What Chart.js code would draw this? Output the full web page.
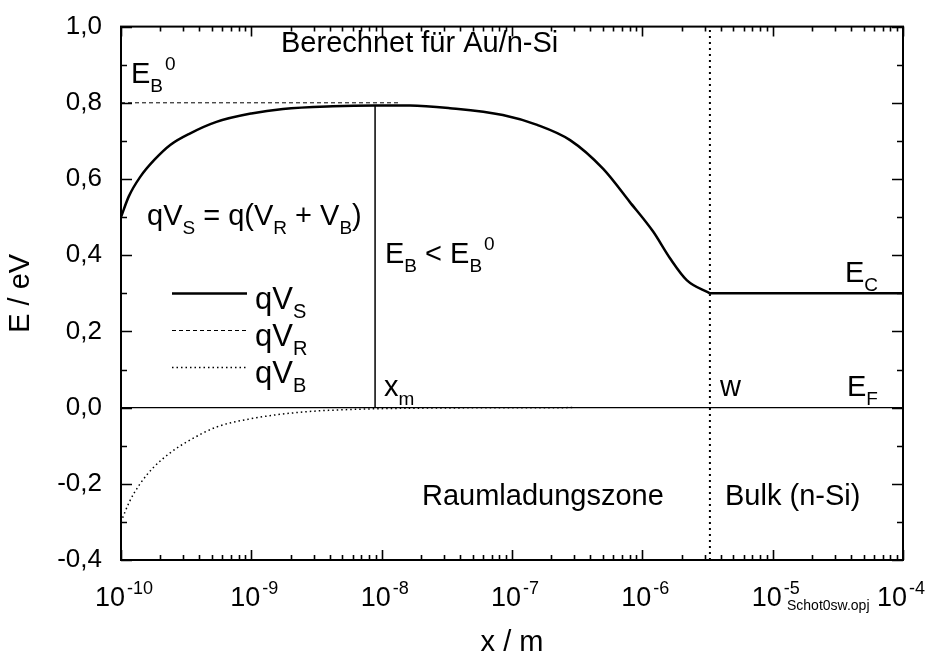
<!DOCTYPE html>
<html>
<head>
<meta charset="utf-8">
<script src="https://cdn.jsdelivr.net/npm/chart.js@4.4.0/dist/chart.umd.min.js"></script>
<style>
  html, body { margin: 0; padding: 0; background: #fff; }
  #wrap { width: 927px; height: 657px; }
</style>
</head>
<body>
<div id="wrap"><canvas id="chart" width="927" height="657"></canvas></div>
<script>
// --- Werte ---
// qV_S (gesamt), bis w
const xVs = [1e-10, 1.15e-10, 1.4e-10, 1.8e-10, 2.4e-10, 3.4e-10, 5.4e-10, 1e-9, 1.75e-9, 4.2e-9, 8.9e-9,
             1.65e-8, 3.34e-8, 8.5e-8, 1.56e-7, 2.79e-7, 4.99e-7, 8.0e-7, 1.21e-6, 1.63e-6, 2.2e-6, 3.3e-6];
const yVs = [0.50, 0.555, 0.605, 0.65, 0.69, 0.72, 0.75, 0.772, 0.784, 0.791, 0.793,
             0.793, 0.786, 0.768, 0.742, 0.702, 0.627, 0.540, 0.462, 0.392, 0.334, 0.30];
// Leitungsband im Bulk
const xEc = [3.3e-6, 1e-4];
const yEc = [0.30, 0.30];
// qV_R (gestrichelt)
const xVr = [1e-10, 1.4e-8];
const yVr = [0.8, 0.8];
// qV_B (gepunktet)
const xVb = [1e-10, 1.15e-10, 1.4e-10, 1.8e-10, 2.4e-10, 3.2e-10, 5.4e-10, 1e-9, 2.4e-9, 5.7e-9, 1.4e-8, 2.94e-7];
const yVb = [-0.30, -0.25, -0.20, -0.155, -0.118, -0.09, -0.051, -0.029, -0.012, -0.005, -0.002, 0];
// Fermi-Niveau, x_m und w
const xEf = [1e-10, 1e-4];
const yEf = [0, 0];
const xXm = [8.9e-9, 8.9e-9];
const yXm = [0, 0.793];
const xW = [3.3e-6, 3.3e-6];
const yW = [-0.4, 1.0];

// Achsen
const xDecades = [-10, -9, -8, -7, -6, -5, -4];
const yMajor = [-0.4, -0.2, 0.0, 0.2, 0.4, 0.6, 0.8, 1.0];

const FONT = '"Liberation Sans", Arial, sans-serif';
const pts = (xs, ys) => xs.map((x, i) => ({ x, y: ys[i] }));

// Text mit Hoch-/Tiefstellung: parts = [[text, 'n'|'sub'|'sup'], ...]
function rich(ctx, x, y, parts, size, draw = true, ratio = 0.64) {
  let cx = x;
  parts.forEach(([t, m]) => {
    let fs = size, dy = 0, gap = 0;
    if (m === 'sub') { fs = Math.round(size * ratio); dy = size * 0.3; }
    if (m === 'sup') { fs = Math.round(size * ratio); dy = -size * 0.45; gap = 2; }
    ctx.font = fs + 'px ' + FONT;
    if (draw) ctx.fillText(t, cx + gap, y + dy);
    cx += ctx.measureText(t).width + gap;
  });
  return cx - x;
}

const decor = {
  id: 'decor',
  afterDatasetsDraw(chart) {
    const { ctx, chartArea: a, scales: { x, y } } = chart;
    ctx.save();
    ctx.strokeStyle = '#000';
    ctx.fillStyle = '#000';

    // Rahmen
    ctx.lineWidth = 2;
    ctx.strokeRect(a.left, a.top, a.right - a.left, a.bottom - a.top);

    // Ticks nach innen (alle vier Seiten)
    ctx.lineWidth = 1.6;
    ctx.beginPath();
    xDecades.forEach(d => {
      for (let m = 1; m <= 9; m++) {
        const v = m * Math.pow(10, d);
        if (v > 1.0001e-4) break;
        const px = Math.round(x.getPixelForValue(v)) + 0.5;
        const len = m === 1 ? 10 : 5;
        ctx.moveTo(px, a.bottom); ctx.lineTo(px, a.bottom - len);
        ctx.moveTo(px, a.top); ctx.lineTo(px, a.top + len);
      }
    });
    for (let i = 0; i < yMajor.length; i++) {
      const v = yMajor[i];
      [[v, 11], [v + 0.1, 6]].forEach(([val, len]) => {
        if (val > 1.0001) return;
        const py = Math.round(y.getPixelForValue(val)) + 0.5;
        ctx.moveTo(a.left, py); ctx.lineTo(a.left + len, py);
        ctx.moveTo(a.right, py); ctx.lineTo(a.right - len, py);
      });
    }
    ctx.stroke();

    // x-Tick-Beschriftung 10^n
    ctx.textBaseline = 'alphabetic';
    ctx.textAlign = 'left';
    xDecades.forEach(d => {
      const parts = [['10', 'n'], [String(d), 'sup']];
      const w = rich(ctx, 0, 0, parts, 27, false, 0.68);
      const px = x.getPixelForValue(Math.pow(10, d));
      const left = Math.min(px - w / 2 + 3, chart.width - 2 - w);
      rich(ctx, left, 606, parts, 27, true, 0.68);
    });

    // Beschriftungen im Diagramm
    const S = 29;
    rich(ctx, 131, 83, [['E', 'n'], ['B', 'sub'], ['0', 'sup']], S);
    rich(ctx, 281, 52, [['Berechnet für Au/n-Si', 'n']], S);
    rich(ctx, 147, 225, [['qV', 'n'], ['S', 'sub'], [' = q(V', 'n'], ['R', 'sub'], [' + V', 'n'], ['B', 'sub'], [')', 'n']], S);
    rich(ctx, 385, 263, [['E', 'n'], ['B', 'sub'], [' < E', 'n'], ['B', 'sub'], ['0', 'sup']], S);
    rich(ctx, 384, 396, [['x', 'n'], ['m', 'sub']], S);
    rich(ctx, 720, 396, [['w', 'n']], S);
    rich(ctx, 845, 282, [['E', 'n'], ['C', 'sub']], S);
    rich(ctx, 847, 396, [['E', 'n'], ['F', 'sub']], S);
    rich(ctx, 422, 505, [['Raumladungszone', 'n']], S);
    rich(ctx, 725, 505, [['Bulk (n-Si)', 'n']], S);
    rich(ctx, 787, 610, [['Schot0sw.opj', 'n']], 14);

    // Legende
    const leg = [
      { lbl: 'S', y: 293, dash: [], lw: 2.5 },
      { lbl: 'R', y: 330, dash: [4, 3], lw: 1 },
      { lbl: 'B', y: 367, dash: [1.5, 3], lw: 1.5 }
    ];
    leg.forEach(l => {
      ctx.save();
      ctx.lineWidth = l.lw;
      ctx.setLineDash(l.dash);
      ctx.beginPath();
      ctx.moveTo(172, l.y + 0.5); ctx.lineTo(247, l.y + 0.5);
      ctx.stroke();
      ctx.restore();
      rich(ctx, 255, l.y + 16, [['qV', 'n'], [l.lbl, 'sub']], 31);
    });

    ctx.restore();
  }
};

new Chart(document.getElementById('chart').getContext('2d'), {
  type: 'line',
  data: {
    datasets: [
      { label: 'qVS', data: pts(xVs, yVs), borderColor: '#000', borderWidth: 2.5, pointRadius: 0, cubicInterpolationMode: 'monotone' },
      { label: 'EC', data: pts(xEc, yEc), borderColor: '#000', borderWidth: 2.5, pointRadius: 0 },
      { label: 'qVR', data: pts(xVr, yVr), borderColor: '#000', borderWidth: 1, borderDash: [4, 3], pointRadius: 0 },
      { label: 'qVB', data: pts(xVb, yVb), borderColor: '#000', borderWidth: 1.5, borderDash: [1.5, 3], pointRadius: 0, cubicInterpolationMode: 'monotone' },
      { label: 'EF', data: pts(xEf, yEf), borderColor: '#000', borderWidth: 1.3, pointRadius: 0 },
      { label: 'xm', data: pts(xXm, yXm), borderColor: '#000', borderWidth: 1.5, pointRadius: 0 },
      { label: 'w', data: pts(xW, yW), borderColor: '#000', borderWidth: 2, borderDash: [2, 4], pointRadius: 0 }
    ]
  },
  options: {
    responsive: false,
    animation: false,
    devicePixelRatio: 1,
    layout: { padding: { top: 24, right: 24, left: 0, bottom: 0 } },
    plugins: { legend: { display: false }, tooltip: { enabled: false } },
    scales: {
      x: {
        type: 'logarithmic',
        min: 1e-10, max: 1e-4,
        grid: { display: false },
        border: { display: false },
        ticks: { display: false },
        title: { display: true, text: 'x / m', color: '#000', font: { family: FONT, size: 29, lineHeight: 1.0 }, padding: { top: 4, bottom: 0 } },
        afterFit: (s) => { s.height = 97; }
      },
      y: {
        min: -0.4, max: 1.0,
        grid: { display: false },
        border: { display: false },
        ticks: {
          stepSize: 0.2,
          color: '#000',
          padding: 11,
          font: { family: FONT, size: 26 },
          callback: (v) => (Math.abs(v) < 1e-9 ? 0 : Number(v)).toFixed(1).replace('.', ',')
        },
        title: { display: true, text: 'E / eV', color: '#000', font: { family: FONT, size: 29 }, padding: { top: 4, bottom: 4 } },
        afterFit: (s) => { s.width = 121; }
      }
    }
  },
  plugins: [decor]
});
</script>
</body>
</html>
